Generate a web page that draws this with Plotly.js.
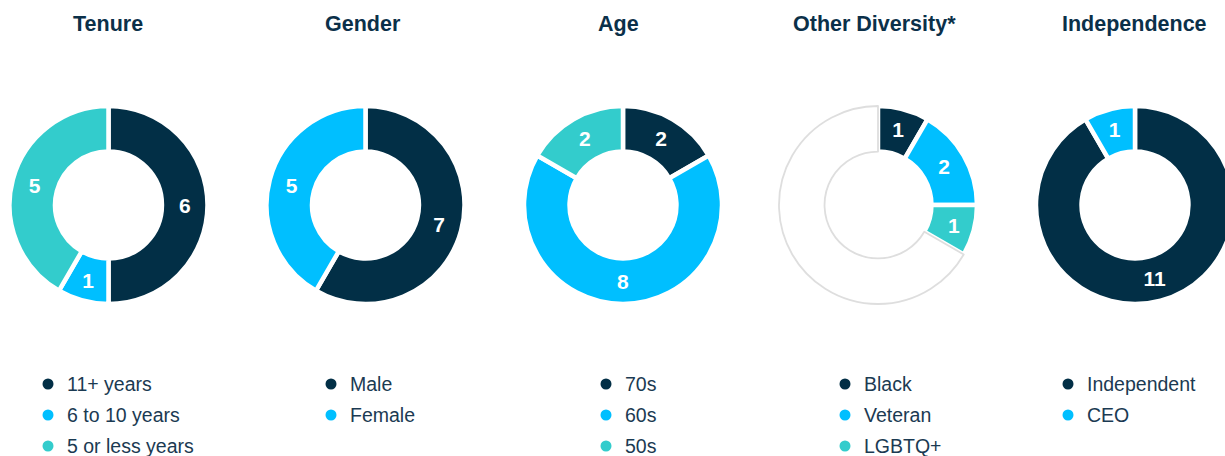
<!DOCTYPE html>
<html>
<head>
<meta charset="utf-8">
<script src="https://cdn.plot.ly/plotly-3.0.1.min.js"></script>
<style>
  body { margin: 0; overflow: hidden; background: #fff; }
  #chart { width: 1245px; height: 456px; }
</style>
</head>
<body>
<div id="chart"></div>
<script>
// data
const titles = ['Tenure', 'Gender', 'Age', 'Other Diversity*', 'Independence']

const tenureLabels = ['11+ years', '6 to 10 years', '5 or less years']
const tenureValues = [6, 1, 5]

const genderLabels = ['Male', 'Female']
const genderValues = [7, 5]

const ageLabels = ['70s', '60s', '50s']
const ageValues = [2, 8, 2]

const diversityLabels = ['Black', 'Veteran', 'LGBTQ+', 'Other']
const diversityValues = [1, 2, 1, 8]

const independenceLabels = ['Independent', 'CEO']
const independenceValues = [11, 1]

const NAVY = '#022f46'
const BLUE = '#00bfff'
const TEAL = '#33cccc'

const charts = [
  {labels: tenureLabels, values: tenureValues, colors: [NAVY, BLUE, TEAL]},
  {labels: genderLabels, values: genderValues, colors: [NAVY, BLUE]},
  {labels: ageLabels, values: ageValues, colors: [NAVY, BLUE, TEAL]},
  {labels: diversityLabels, values: diversityValues, colors: [NAVY, BLUE, TEAL, '#ffffff'], blank: 3},
  {labels: independenceLabels, values: independenceValues, colors: [NAVY, BLUE]}
]

// layout in pixels
const W = 1245, H = 456
const centerX = [108.5, 365.5, 623, 878, 1135]
const centerY = 205
const R = 99
const titleX = [107.5, 363, 618, 874, 1134]
const dotX = [48, 331, 606, 845, 1068]
const rowY = [384, 415, 446]

const FONT = "Arial, 'Liberation Sans', sans-serif"

const data = []
const annotations = []
const shapes = []

charts.forEach((c, i) => {
  const lineColors = c.colors.map((col, k) => k === c.blank ? '#dedede' : '#ffffff')
  const lineWidths = c.colors.map((col, k) => k === c.blank ? 1.8 : 4.5)
  data.push({
    type: 'pie',
    labels: c.labels,
    values: c.values,
    text: c.values.map((v, k) => k === c.blank ? '' : String(v)),
    textinfo: 'text',
    textposition: 'inside',
    insidetextorientation: 'horizontal',
    insidetextfont: {family: FONT, size: 21, color: '#ffffff', weight: 'bold'},
    hole: 0.54,
    sort: false,
    direction: 'clockwise',
    rotation: 0,
    marker: {colors: c.colors, line: {color: lineColors, width: lineWidths}},
    hoverinfo: 'none',
    showlegend: false,
    domain: {
      x: [(centerX[i] - R) / W, (centerX[i] + R) / W],
      y: [(H - centerY - R) / H, (H - centerY + R) / H]
    }
  })

  annotations.push({
    xref: 'paper', yref: 'paper',
    x: titleX[i] / W, y: 1 - 24 / H,
    xanchor: 'center', yanchor: 'middle',
    text: titles[i], showarrow: false,
    font: {family: FONT, size: 21.5, color: '#0b3049', weight: 'bold'}
  })

  // custom legend with round dots
  c.labels.forEach((lab, k) => {
    if (k === c.blank) return
    const y = 1 - rowY[k] / H
    shapes.push({
      type: 'circle', xref: 'paper', yref: 'paper',
      xsizemode: 'pixel', ysizemode: 'pixel',
      xanchor: dotX[i] / W, yanchor: y,
      x0: -5.5, x1: 5.5, y0: -5.5, y1: 5.5,
      fillcolor: c.colors[k], line: {width: 0}
    })
    annotations.push({
      xref: 'paper', yref: 'paper',
      x: (dotX[i] + 17) / W, y: y,
      xanchor: 'left', yanchor: 'middle',
      text: lab, showarrow: false,
      font: {family: FONT, size: 19.5, color: '#1b3a52'}
    })
  })
})

const layout = {
  width: W,
  height: H,
  margin: {l: 0, r: 0, t: 0, b: 0},
  paper_bgcolor: '#ffffff',
  plot_bgcolor: '#ffffff',
  showlegend: false,
  font: {family: FONT},
  annotations: annotations,
  shapes: shapes
}

Plotly.newPlot('chart', data, layout, {displayModeBar: false, staticPlot: true})
</script>
</body>
</html>
